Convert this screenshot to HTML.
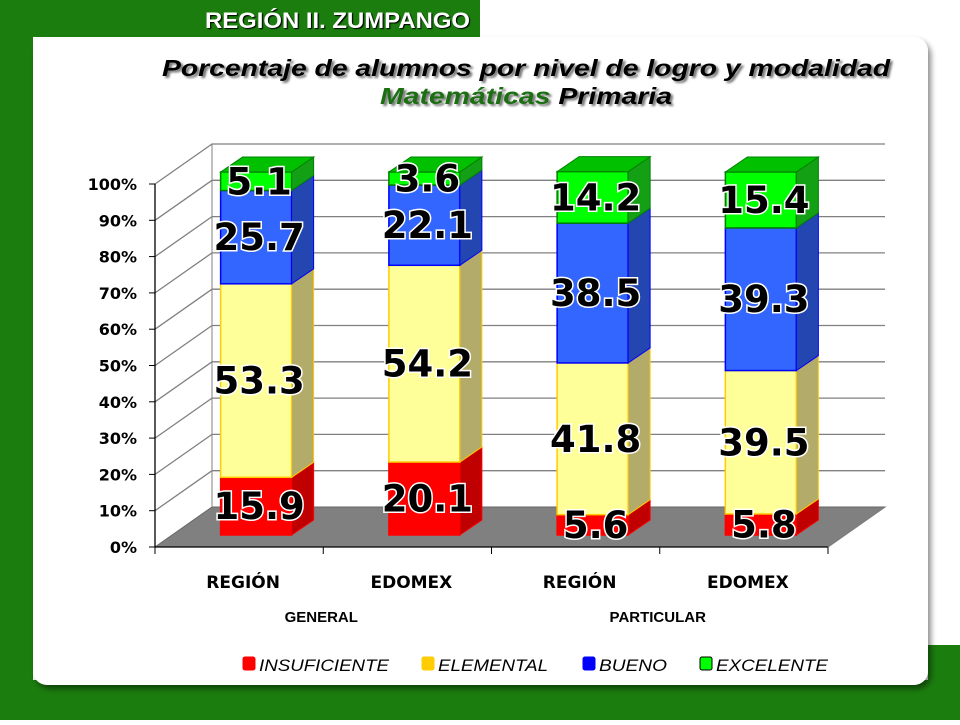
<!DOCTYPE html>
<html><head><meta charset="utf-8"><style>
body{margin:0;width:960px;height:720px;overflow:hidden;background:#fff;font-family:"Liberation Sans",sans-serif;}
</style></head><body>
<svg width="960" height="720" viewBox="0 0 960 720" xmlns="http://www.w3.org/2000/svg">
<defs><filter id="sh" x="-5%" y="-5%" width="115%" height="115%"><feDropShadow dx="3" dy="4" stdDeviation="3" flood-color="#000" flood-opacity="0.45"/></filter></defs>
<rect x="0" y="0" width="960" height="720" fill="#fff"/>
<rect x="0" y="0" width="33" height="720" fill="#1b7d0e"/>
<rect x="0" y="0" width="480" height="37" fill="#1b7d0e"/>
<rect x="0" y="680" width="960" height="40" fill="#1b7d0e"/>
<rect x="928" y="645" width="32" height="75" fill="#1b7d0e"/>
<rect x="33" y="37" width="895" height="648" rx="14" fill="#fff" filter="url(#sh)"/>
<text x="205" y="28" textLength="265" lengthAdjust="spacingAndGlyphs" font-size="22" font-weight="bold" fill="#fff" style="text-shadow:1px 1px 1px #000">REGIÓN II. ZUMPANGO</text>
<g font-weight="bold" font-style="italic" font-size="23" style="text-shadow:2px 2px 2px #777">
<text x="162" y="76" textLength="728" lengthAdjust="spacingAndGlyphs" fill="#000">Porcentaje de alumnos por nivel de logro y modalidad</text>
<text x="380" y="104" textLength="292" lengthAdjust="spacingAndGlyphs"><tspan fill="#1b6e12">Matemáticas</tspan> <tspan fill="#000">Primaria</tspan></text>
</g>
<g id="chart"></g>
</svg>
<script>
const categories=["REGIÓN","EDOMEX","REGIÓN","EDOMEX"];
const groups=["GENERAL","PARTICULAR"];
const seriesNames=["INSUFICIENTE","ELEMENTAL","BUENO","EXCELENTE"];
const insuficiente=[15.9,20.1,5.6,5.8];
const elemental=[53.3,54.2,41.8,39.5];
const bueno=[25.7,22.1,38.5,39.3];
const excelente=[5.1,3.6,14.2,15.4];
const yTicks=[0,10,20,30,40,50,60,70,80,90,100];

const NS="http://www.w3.org/2000/svg";
const g=document.getElementById('chart');
function mk(t,a,p){const e=document.createElementNS(NS,t);for(const k in a)e.setAttribute(k,a[k]);(p||g).appendChild(e);return e;}
const X0=155,Y0=547,PX=3.63,DX=57,DY=-40,XR=828,CW=(XR-X0)/4;
function yS(v){return Y0-v*PX;}
let f=mk('polygon',{points:`${X0},${Y0} ${X0+DX},${Y0+DY} ${XR+DX},${Y0+DY} ${XR},${Y0}`,fill:'#808080',stroke:'#666'});


yTicks.forEach(t=>{
  const y=yS(t);
  if(t>0){
    let l=mk('polyline',{points:`${X0},${y} ${X0+DX},${y+DY} ${XR+DX},${y+DY}`,fill:'none',stroke:'#808080','stroke-width':1.3});
    
    
  }
  mk('line',{x1:X0-6,y1:y,x2:X0,y2:y,stroke:'#000'});
  let tx=mk('text',{x:X0-18,y:y+6,'text-anchor':'end','font-size':16,'font-weight':'bold','font-family':'DejaVu Sans, sans-serif'});
  tx.textContent=t+'%';
  
  
});
mk('line',{x1:X0+DX,y1:Y0+DY,x2:X0+DX,y2:yS(100)+DY,stroke:'#808080'});
let ax=mk('line',{x1:X0,y1:Y0,x2:X0,y2:yS(100),stroke:'#000','stroke-width':1.3});


mk('line',{x1:X0,y1:Y0,x2:XR,y2:Y0,stroke:'#000','stroke-width':1.3});
for(let i=0;i<=4;i++)mk('line',{x1:X0+i*CW,y1:Y0,x2:X0+i*CW,y2:Y0+7,stroke:'#000'});
mk('line',{x1:XR,y1:Y0,x2:XR+DX,y2:Y0+DY,stroke:'#808080'});
const series=[insuficiente,elemental,bueno,excelente];
const face=['#ff0000','#ffff99','#3366ff','#00ff00'];
const side=['#c00000','#b3ab6a','#2446b0','#14a014'];
const top_=['#d00000','#e8e080','#2a55d8','#00c000'];
const edge=['#ff0000','#ffcc00','#0000ff','#008000'];
const BW=71,bdx=22,bdy=-15,offX=17,offY=-12;
categories.forEach((c,i)=>{
  const x=X0+i*CW+(CW-BW)/2+offX;
  let cum=0;
  series.forEach((s,k)=>{
    const v=s[i];const yb=yS(cum)+offY,yt=yS(cum+v)+offY;
    const grp=mk('g',{});
    
    
    mk('rect',{x:x,y:yt,width:BW,height:yb-yt,fill:face[k],stroke:edge[k],'stroke-width':1.5},grp);
    mk('polygon',{points:`${x+BW},${yb} ${x+BW+bdx},${yb+bdy} ${x+BW+bdx},${yt+bdy} ${x+BW},${yt}`,fill:side[k],stroke:edge[k],'stroke-width':1},grp);
    if(k===3)mk('polygon',{points:`${x},${yt} ${x+bdx},${yt+bdy} ${x+BW+bdx},${yt+bdy} ${x+BW},${yt}`,fill:top_[k],stroke:edge[k],'stroke-width':1},grp);
    cum+=v;
  });
  cum=0;
  series.forEach((s,k)=>{
    const v=s[i];const ym=(yS(cum)+yS(cum+v))/2+offY;
    let t=mk('text',{x:x+BW/2+3,y:ym+13,'text-anchor':'middle','font-size':37,'font-weight':'bold','font-family':'DejaVu Sans, sans-serif',fill:'#000',stroke:'#fff','stroke-width':3,'paint-order':'stroke'});
    t.textContent=v.toFixed(1);
    
    
    cum+=v;
  });
  let cl=mk('text',{x:X0+i*CW+CW/2+4,y:588,'text-anchor':'middle','font-size':17,'font-weight':'bold','font-family':'DejaVu Sans, sans-serif'});
  cl.textContent=c;
  
  
});
groups.forEach((gn,j)=>{
  let t=mk('text',{x:X0+(j*2+1)*CW-2,y:622,'text-anchor':'middle','font-size':15,'font-weight':'bold'});
  t.textContent=gn;
  
  
});
const legX=[243,422,583,700];
const legW=[130,110,68,112];
const legFill=['#ff0000','#ffcc00','#0000ff','#00ff00'];
seriesNames.forEach((n,k)=>{
  const lg=mk('g',{});
  
  
  mk('rect',{x:legX[k],y:657,width:12,height:13,rx:2,fill:legFill[k],stroke:k===3?'#000':legFill[k]},lg);
  const t=mk('text',{x:legX[k]+16,y:671,'font-size':17,'font-style':'italic',fill:'#000',textLength:legW[k],lengthAdjust:'spacingAndGlyphs'},lg);
  t.textContent=n;
});
</script>
</body></html>
